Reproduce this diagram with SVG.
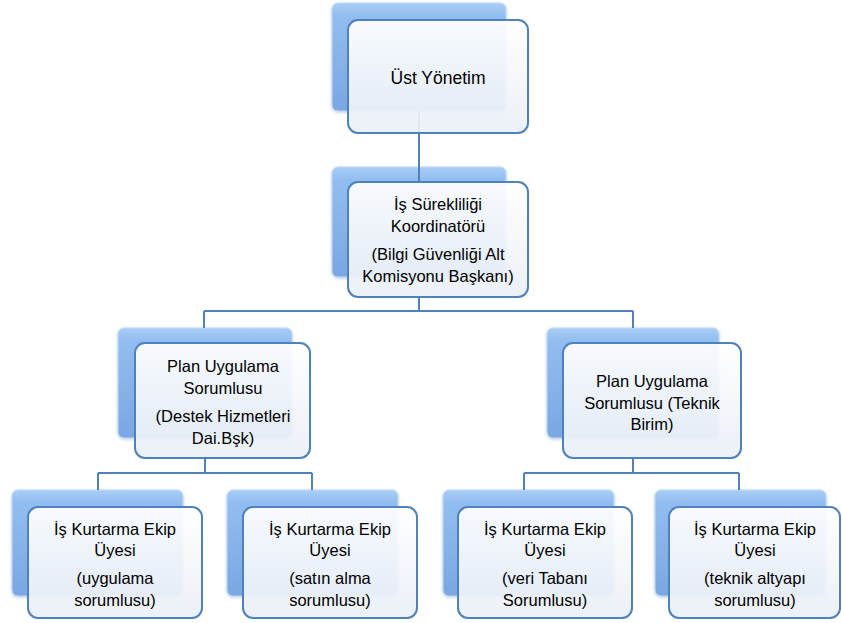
<svg xmlns="http://www.w3.org/2000/svg" width="842" height="623" viewBox="0 0 842 623">
<defs>
<linearGradient id="gBack" x1="0" y1="0" x2="0" y2="1">
<stop offset="0" stop-color="#a9cdf5"/>
<stop offset="0.12" stop-color="#92bdf0"/>
<stop offset="1" stop-color="#7aa7e2"/>
</linearGradient>
<linearGradient id="gFront" x1="0" y1="0" x2="0" y2="1">
<stop offset="0" stop-color="#ffffff"/>
<stop offset="1" stop-color="#eaeff7"/>
</linearGradient>
<filter id="glow" x="-10%" y="-10%" width="120%" height="120%">
<feGaussianBlur in="SourceAlpha" stdDeviation="1.5"/>
<feOffset dx="0" dy="1" result="b"/>
<feFlood flood-color="#8aa8d0" flood-opacity="0.6"/>
<feComposite in2="b" operator="in"/>
<feMerge><feMergeNode/><feMergeNode in="SourceGraphic"/></feMerge>
</filter>
</defs>
<style>
.back{fill:url(#gBack);stroke:#c4dbf6;stroke-width:1;filter:url(#glow)}
.front{fill:url(#gFront);fill-opacity:0.93;stroke:#4f81bd;stroke-width:2}
.conn{fill:none;stroke:#4f81bd;stroke-width:2}
text{font-family:"Liberation Sans",Arial,sans-serif;font-size:16.5px;fill:#000;text-anchor:middle}
</style>
<rect width="842" height="623" fill="#ffffff"/>

<g id="n1-back"><rect class="back" x="332" y="3" width="174" height="108" rx="6"/></g>
<g id="n2-back"><rect class="back" x="332" y="167" width="174" height="110" rx="6"/></g>
<g id="n3-back"><rect class="back" x="118" y="328" width="174" height="110" rx="6"/></g>
<g id="n4-back"><rect class="back" x="547" y="328" width="172" height="110" rx="6"/></g>
<g id="n5-back"><rect class="back" x="12" y="490" width="171" height="106" rx="6"/></g>
<g id="n6-back"><rect class="back" x="227" y="490" width="171" height="106" rx="6"/></g>
<g id="n7-back"><rect class="back" x="443" y="490" width="171" height="106" rx="6"/></g>
<g id="n8-back"><rect class="back" x="655" y="490" width="171" height="106" rx="6"/></g>

<g id="connectors">
<path class="conn" d="M419 110 V182"/>
<path class="conn" d="M419 297 V311 M204 311 H633 M204 311 V328 M633 311 V328"/>
<path class="conn" d="M205 458 V473 M98 473 H312 M98 473 V490 M312 473 V490"/>
<path class="conn" d="M633 458 V473 M524 473 H739 M524 473 V490 M739 473 V490"/>
</g>

<g id="n1">
<rect class="front" x="348" y="20" width="180" height="113" rx="10"/>
<text x="438" y="84" style="font-size:17.5px">Üst Yönetim</text>
</g>
<g id="n2">
<rect class="front" x="348" y="182" width="180" height="115" rx="10"/>
<text x="438" y="210">İş Sürekliliği</text>
<text x="438" y="232">Koordinatörü</text>
<text x="438" y="260">(Bilgi Güvenliği Alt</text>
<text x="438" y="282">Komisyonu Başkanı)</text>
</g>
<g id="n3">
<rect class="front" x="135" y="343" width="175" height="115" rx="10"/>
<text x="223" y="372">Plan Uygulama</text>
<text x="223" y="394">Sorumlusu</text>
<text x="223" y="422">(Destek Hizmetleri</text>
<text x="223" y="444">Dai.Bşk)</text>
</g>
<g id="n4">
<rect class="front" x="563" y="343" width="178" height="115" rx="10"/>
<text x="652" y="387">Plan Uygulama</text>
<text x="652" y="409">Sorumlusu (Teknik</text>
<text x="652" y="430">Birim)</text>
</g>
<g id="n5">
<rect class="front" x="28" y="507" width="174" height="111" rx="10"/>
<text x="115" y="535">İş Kurtarma Ekip</text>
<text x="115" y="556">Üyesi</text>
<text x="115" y="584">(uygulama</text>
<text x="115" y="606">sorumlusu)</text>
</g>
<g id="n6">
<rect class="front" x="243" y="507" width="174" height="111" rx="10"/>
<text x="330" y="535">İş Kurtarma Ekip</text>
<text x="330" y="556">Üyesi</text>
<text x="330" y="584">(satın alma</text>
<text x="330" y="606">sorumlusu)</text>
</g>
<g id="n7">
<rect class="front" x="458" y="507" width="174" height="111" rx="10"/>
<text x="545" y="535">İş Kurtarma Ekip</text>
<text x="545" y="556">Üyesi</text>
<text x="545" y="584">(veri Tabanı</text>
<text x="545" y="606">Sorumlusu)</text>
</g>
<g id="n8">
<rect class="front" x="669" y="507" width="171" height="111" rx="10"/>
<text x="755" y="535">İş Kurtarma Ekip</text>
<text x="755" y="556">Üyesi</text>
<text x="755" y="584">(teknik altyapı</text>
<text x="755" y="606">sorumlusu)</text>
</g>
</svg>
